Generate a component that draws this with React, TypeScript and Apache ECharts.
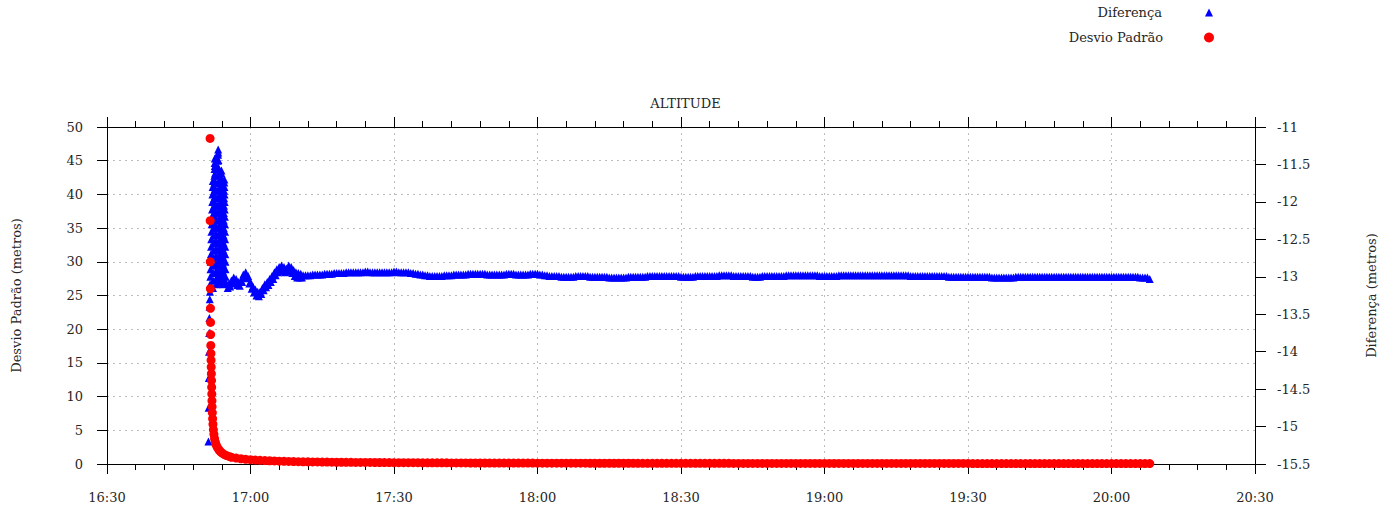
import React, { useEffect, useRef } from "react";
import * as echarts from "echarts";

// ---------- axes ----------
const xMin = 990; // 16:30 in minutes since midnight
const xMax = 1230; // 20:30
const xStep = 30;
const leftMin = 0, leftMax = 50, leftStep = 5;
const rightMin = -15.5, rightMax = -11, rightStep = 0.5;

// ---------- Diferença (right axis) ----------
// first noisy samples (start 16:51:12, one sample every 0.04 min)
const difInicioT0 = 1011.2;
const difInicioDt = 0.04;
const difInicioValores = [
  -15.2, -14.75, -14.35, -14.0, -13.75, -13.55, -13.4, -13.3, -13.2, -13.1,
  -13.0, -12.9, -12.8, -12.7, -12.6, -12.5, -12.4, -12.3, -12.2, -12.1,
  -12.0, -11.9, -11.8, -11.72,
];
// oscillating peak (one sample every 0.02 min)
const difPicoT0 = 1012.16;
const difPicoDt = 0.02;
const difPicoValores = [
  -13.15, -13.05, -12.95, -12.85, -12.75, -12.65, -12.55, -12.45, -12.35, -12.25, -12.15, -12.05, -11.95, -11.85, -11.75, -11.65, -11.56, -11.48,
  -11.42, -11.52, -11.62, -11.72, -11.82, -11.92, -12.02, -12.12, -12.22, -12.32, -12.42, -12.52, -12.62, -12.72, -12.82, -12.92, -13.02, -13.1,
  -13.05, -12.95, -12.85, -12.75, -12.65, -12.55, -12.45, -12.35, -12.25, -12.15, -12.05, -11.95, -11.85, -11.75, -11.65, -11.55, -11.45, -11.37, -11.3,
  -11.34, -11.44, -11.54, -11.64, -11.74, -11.84, -11.94, -12.04, -12.14, -12.24, -12.34, -12.44, -12.54, -12.64, -12.74, -12.84, -12.94, -13.04,
  -13.08, -12.98, -12.88, -12.78, -12.68, -12.58, -12.48, -12.38, -12.28, -12.18, -12.08, -11.98, -11.88, -11.78, -11.68, -11.58,
  -11.62, -11.72, -11.82, -11.92, -12.02, -12.12, -12.22, -12.32, -12.42, -12.52, -12.62, -12.72, -12.82, -12.92, -13.02, -13.1,
  -13.05, -12.95, -12.85, -12.75, -12.65, -12.55, -12.45, -12.35, -12.25, -12.15, -12.05, -11.95, -11.85, -11.74,
  -11.7, -11.8, -11.9, -12.0, -12.1, -12.2, -12.3, -12.4, -12.5, -12.6, -12.7, -12.8, -12.9, -13.0,
];
// settling (one sample every 0.25 min)
const difAjusteT0 = 1015.0;
const difAjusteDt = 0.25;
const difAjusteValores = [
  -13.09, -13.15, -13.09, -13.13, -13.05, -13.09, -13.01, -13.08,
  -13.03, -13.11, -13.07, -13.12, -13.05, -13.07, -12.97, -13.01,
  -12.94, -13.02, -12.99, -13.09, -13.07, -13.16, -13.13, -13.21,
  -13.17, -13.25, -13.2, -13.26, -13.2, -13.23, -13.15, -13.18,
  -13.1, -13.14, -13.07, -13.11, -13.03, -13.07, -12.99, -13.03,
  -12.94, -12.98, -12.9, -12.94, -12.87, -12.92, -12.85, -12.92,
  -12.87, -12.94, -12.89, -12.93, -12.85, -12.92, -12.87, -12.95,
  -12.91, -12.99, -12.94, -13.01, -12.95, -13.01, -12.96, -13.01,
];
// steady part (one sample every 0.5 min, from 17:11)
const difPlanoT0 = 1031;
const difPlanoDt = 0.5;
const difPlanoValores = [
  -12.98, -12.98, -12.98, -12.98, -12.97, -12.97, -12.97, -12.97, -12.97, -12.96, -12.96, -12.96, -12.96, -12.95, -12.95, -12.95,
  -12.95, -12.95, -12.94, -12.94, -12.94, -12.94, -12.94, -12.94, -12.94, -12.94, -12.93, -12.93, -12.94, -12.94, -12.94, -12.94, -12.94,
  -12.94, -12.94, -12.94, -12.94, -12.94, -12.93, -12.93, -12.94, -12.94, -12.94, -12.94, -12.94, -12.95, -12.95, -12.96, -12.96, -12.97,
  -12.97, -12.98, -12.98, -12.99, -12.99, -12.99, -12.99, -12.99, -12.99, -12.98, -12.98, -12.98, -12.98, -12.97,
  -12.97, -12.97, -12.97, -12.97, -12.97, -12.96, -12.96, -12.96, -12.96, -12.96, -12.96, -12.96, -12.96, -12.97, -12.97, -12.97, -12.97, -12.97, -12.97, -12.97,
  -12.97, -12.96, -12.96, -12.96, -12.96, -12.97, -12.97, -12.97, -12.97, -12.97, -12.97, -12.96, -12.96, -12.96, -12.96, -12.97, -12.97, -12.98, -12.98, -12.99,
  -12.99, -12.99, -12.99, -12.99, -13.0, -13.0, -13.0, -13.0, -13.0, -13.0, -12.99, -12.99, -12.99, -12.99, -12.99, -12.99, -13.0, -13.0, -13.0, -13.0,
  -13.0, -13.0, -13.0, -13.0, -13.01, -13.01, -13.01, -13.01, -13.01, -13.01, -13.01, -13.01, -13.0, -13.0, -13.0, -13.0, -13.0, -13.0, -13.0, -13.0, -12.99, -12.99, -12.99, -12.99,
  -12.99, -12.99, -12.99, -12.99, -12.99, -12.99, -12.99, -12.99, -12.99, -12.99, -13.0, -13.0, -13.0, -13.0, -13.0, -13.0, -12.99, -12.99, -12.99, -12.99,
  -12.99, -12.99, -12.99, -12.99, -12.99, -12.99, -12.98, -12.98, -12.98, -12.98, -12.98, -12.98, -12.99, -12.99, -12.99, -12.99, -12.99, -12.99, -12.99, -12.99,
  -13.0, -13.0, -13.0, -13.0, -12.99, -12.99, -12.99, -12.99, -12.99, -12.99, -12.99, -12.99, -12.99, -12.99, -12.98, -12.98, -12.98, -12.98, -12.98, -12.98,
  -12.98, -12.98, -12.98, -12.98, -12.98, -12.98, -12.98, -12.98, -12.99, -12.99, -12.99, -12.99, -12.99, -12.99, -12.99, -12.99, -12.98, -12.98, -12.98, -12.98,
  -12.98, -12.98, -12.98, -12.98, -12.98, -12.98, -12.98, -12.98, -12.98, -12.98, -12.98, -12.98, -12.98, -12.98, -12.98, -12.98, -12.98, -12.98, -12.98, -12.98,
  -12.98, -12.98, -12.98, -12.98, -12.98, -12.98, -12.99, -12.99, -12.99, -12.99, -12.99, -12.99, -12.99, -12.99, -12.99, -12.99, -12.99, -12.99, -12.99, -12.99,
  -12.99, -12.99, -13.0, -13.0, -13.0, -13.0, -13.0, -13.0, -13.0, -13.0, -13.0, -13.0,
  -13.0, -13.0, -13.0, -13.0, -13.0, -13.0, -13.0, -13.0, -13.01, -13.01, -13.01, -13.01, -13.01, -13.01, -13.01, -13.01, -13.01, -13.01, -13.0, -13.0,
  -13.0, -13.0, -13.0, -13.0, -13.0, -13.0, -13.0, -13.0, -13.0, -13.0, -13.0, -13.0, -13.0, -13.0, -13.0, -13.0, -13.0, -13.0, -13.0, -13.0,
  -13.0, -13.0, -13.0, -13.0, -13.0, -13.0, -13.0, -13.0, -13.0, -13.0, -13.0, -13.0, -13.0, -13.0, -13.0, -13.0, -13.0, -13.0, -13.0, -13.0,
  -13.0, -13.0, -13.0, -13.0, -13.0, -13.0, -13.0, -13.0, -13.0, -13.0, -13.01, -13.01, -13.01, -13.01,
  -13.03,
];

// ---------- Desvio Padrão (left axis) ----------
const desvioInicioTempos = [
  1011.55, 1011.57, 1011.59, 1011.61, 1011.63, 1011.65, 1011.67, 1011.7, 1011.73, 1011.76,
  1011.79, 1011.82, 1011.85, 1011.88, 1011.91, 1011.94, 1011.97, 1012.02, 1012.08, 1012.15,
  1012.24, 1012.35, 1012.48, 1012.63, 1012.8, 1013.0, 1013.25, 1013.5, 1013.8, 1014.15,
  1014.55, 1015.0, 1015.5,
];
const desvioInicioValores = [
  48.3, 36.1, 30.0, 26.0, 23.1, 21.0, 19.2, 17.6, 16.4, 15.4,
  14.4, 13.4, 12.4, 11.4, 10.4, 9.4, 8.5, 7.6, 6.7, 5.9,
  5.1, 4.4, 3.8, 3.3, 2.9, 2.55, 2.25, 2.0, 1.78, 1.58,
  1.4, 1.25, 1.12,
];
const desvioPlanoT0 = 1016;
const desvioPlanoValores = [
  1.0, 0.88, 0.78, 0.7, 0.64, 0.59, 0.55, 0.51, 0.48, 0.45, 0.42, 0.4, 0.38, 0.36, 0.34,
  0.33, 0.32, 0.31, 0.3, 0.29, 0.28, 0.27, 0.26, 0.26, 0.25, 0.25, 0.24, 0.24, 0.23, 0.23, 0.22, 0.22, 0.21, 0.21, 0.2,
  0.2, 0.2, 0.19, 0.19, 0.19, 0.18, 0.18, 0.18, 0.17, 0.17,
  0.17, 0.16, 0.16, 0.16, 0.16, 0.15, 0.15, 0.15, 0.15, 0.14,
  0.14, 0.14, 0.14, 0.14, 0.13, 0.13, 0.13, 0.13, 0.13, 0.12,
  0.12, 0.12, 0.12, 0.12, 0.12, 0.12, 0.12, 0.12, 0.12, 0.12,
  0.11, 0.11, 0.11, 0.11, 0.11, 0.11, 0.11, 0.11, 0.11, 0.11,
  0.1, 0.1, 0.1, 0.1, 0.1, 0.1, 0.1, 0.1, 0.1, 0.1,
  0.1, 0.1, 0.1, 0.1, 0.1, 0.1, 0.1, 0.1, 0.1, 0.1,
  0.09, 0.09, 0.09, 0.09, 0.09, 0.09, 0.09, 0.09, 0.09, 0.09,
  0.09, 0.09, 0.09, 0.09, 0.09, 0.09, 0.09, 0.09, 0.09, 0.09,
  0.08, 0.08, 0.08, 0.08, 0.08, 0.08, 0.08, 0.08, 0.08, 0.08,
  0.08, 0.08, 0.08, 0.08, 0.08, 0.08, 0.08, 0.08, 0.08, 0.08,
  0.08, 0.08, 0.08, 0.08, 0.08, 0.08, 0.08, 0.08, 0.08, 0.08,
  0.07, 0.07, 0.07, 0.07, 0.07, 0.07, 0.07, 0.07, 0.07, 0.07,
  0.07, 0.07, 0.07, 0.07, 0.07, 0.07, 0.07, 0.07, 0.07, 0.07,
  0.07, 0.07, 0.07, 0.07, 0.07, 0.07, 0.07, 0.07, 0.07, 0.07,
  0.07, 0.07, 0.07, 0.07, 0.07, 0.07, 0.07, 0.07,
];

const FONT = "DejaVu Serif";
const TXT = "#262626";

function sampled(t0: number, dt: number, vals: number[]): number[][] {
  return vals.map((v, i) => [+(t0 + i * dt).toFixed(4), v]);
}

function fmtTime(v: number): string {
  const h = Math.floor(v / 60);
  const m = Math.round(v - h * 60);
  return `${h}:${m < 10 ? "0" + m : m}`;
}

export default function App() {
  const ref = useRef<HTMLDivElement>(null);
  useEffect(() => {
    if (!ref.current) return;
    const chart = echarts.init(ref.current, undefined, { renderer: "svg" });

    const diferenca = [
      ...sampled(difInicioT0, difInicioDt, difInicioValores),
      ...sampled(difPicoT0, difPicoDt, difPicoValores),
      ...sampled(difAjusteT0, difAjusteDt, difAjusteValores),
      ...sampled(difPlanoT0, difPlanoDt, difPlanoValores),
    ];
    const desvio = [
      ...desvioInicioTempos.map((t, i) => [t, desvioInicioValores[i]]),
      ...sampled(desvioPlanoT0, 1, desvioPlanoValores),
    ];

    const axisLine = { show: true, onZero: false, lineStyle: { color: "#000", width: 1 } };
    const tickStyle = { color: "#000", width: 1 };
    const gridLine = { show: true, lineStyle: { color: "#bdbdbd", width: 1, type: [2, 4] as any } };
    const labelStyle = { fontFamily: FONT, fontSize: 13, color: TXT };

    chart.setOption({
      animation: false,
      backgroundColor: "#ffffff",
      textStyle: { fontFamily: FONT },
      title: {
        text: "ALTITUDE",
        left: 680.5,
        top: 92,
        textAlign: "center",
        textStyle: { fontFamily: FONT, fontSize: 13, fontWeight: "normal", color: TXT },
      },
      legend: [
        {
          data: [{ name: "Diferença", icon: "triangle" }],
          orient: "vertical",
          align: "right",
          right: 184,
          top: 6,
          padding: 0,
          itemWidth: 8,
          itemHeight: 8,
          selectedMode: false,
          textStyle: { fontFamily: FONT, fontSize: 13, color: TXT, padding: [0, 38, 0, 0] },
        },
        {
          data: [{ name: "Desvio Padrão", icon: "circle" }],
          orient: "vertical",
          align: "right",
          right: 183,
          top: 31,
          padding: 0,
          itemWidth: 10,
          itemHeight: 10,
          selectedMode: false,
          textStyle: { fontFamily: FONT, fontSize: 13, color: TXT, padding: [0, 36, 0, 0] },
        },
      ],
      grid: { left: 107, right: 142, top: 127, bottom: 54, containLabel: false },
      xAxis: [
        {
          type: "value",
          position: "bottom",
          min: xMin,
          max: xMax,
          interval: xStep,
          axisLine,
          axisTick: { show: true, inside: false, length: 10, lineStyle: tickStyle },
          minorTick: { show: true, splitNumber: 5, length: 6, lineStyle: tickStyle },
          axisLabel: { ...labelStyle, margin: 27, formatter: (v: number) => fmtTime(v) },
          splitLine: gridLine,
          minorSplitLine: { show: false },
        },
        {
          type: "value",
          position: "top",
          min: xMin,
          max: xMax,
          interval: xStep,
          axisLine,
          axisTick: { show: true, inside: false, length: 10, lineStyle: tickStyle },
          minorTick: { show: true, splitNumber: 5, length: 6, lineStyle: tickStyle },
          axisLabel: { show: false },
          splitLine: { show: false },
        },
      ],
      yAxis: [
        {
          type: "value",
          position: "left",
          min: leftMin,
          max: leftMax,
          interval: leftStep,
          name: "Desvio Padrão (metros)",
          nameLocation: "middle",
          nameRotate: 90,
          nameGap: 84,
          nameTextStyle: labelStyle,
          axisLine,
          axisTick: { show: true, inside: false, length: 10, lineStyle: tickStyle },
          axisLabel: { ...labelStyle, margin: 24 },
          splitLine: gridLine,
        },
        {
          type: "value",
          position: "right",
          min: rightMin,
          max: rightMax,
          interval: rightStep,
          name: "Diferença (metros)",
          nameLocation: "middle",
          nameRotate: 90,
          nameGap: 110,
          nameTextStyle: labelStyle,
          axisLine,
          axisTick: { show: true, inside: false, length: 11, lineStyle: tickStyle },
          axisLabel: { ...labelStyle, margin: 22 },
          splitLine: { show: false },
        },
      ],
      series: [
        {
          name: "Diferença",
          type: "scatter",
          xAxisIndex: 0,
          yAxisIndex: 1,
          symbol: "triangle",
          symbolSize: 8,
          itemStyle: { color: "#0000ff", opacity: 1 },
          data: diferenca,
          clip: false,
          silent: true,
          z: 2,
        },
        {
          name: "Desvio Padrão",
          type: "scatter",
          xAxisIndex: 0,
          yAxisIndex: 0,
          symbol: "circle",
          symbolSize: 9,
          itemStyle: { color: "#ff0000", opacity: 1 },
          data: desvio,
          clip: false,
          silent: true,
          z: 3,
        },
      ],
    });

    return () => chart.dispose();
  }, []);

  return (
    <div
      ref={ref}
      style={{ position: "absolute", left: 0, top: 0, width: 1397, height: 518, background: "#fff" }}
    />
  );
}
